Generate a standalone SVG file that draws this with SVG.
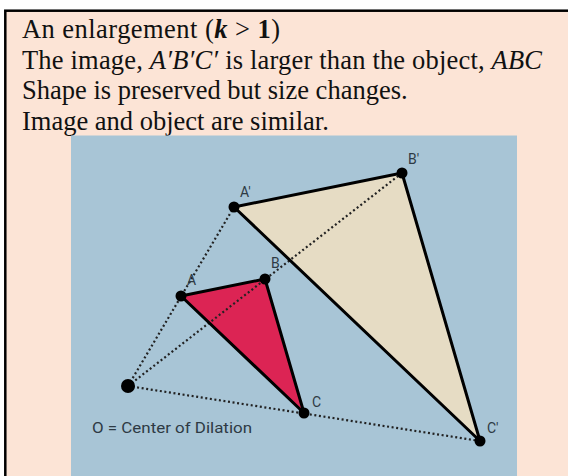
<svg xmlns="http://www.w3.org/2000/svg" width="568" height="476" viewBox="0 0 568 476">
<style>
.t{font-family:"Liberation Serif","Times New Roman",serif;font-size:26.5px;fill:#111}
.lbl{font-family:Roboto,"Liberation Sans",sans-serif;font-size:14px;fill:#2e3a44}
.dot{stroke:#222;stroke-width:2.2;stroke-dasharray:2 2.6;fill:none}
.edge{stroke:#000;stroke-width:3;stroke-linejoin:round;fill:none}
.pt{fill:#000}
</style>
<rect x="5.3" y="10.7" width="570" height="475" fill="#FCE4D6" stroke="#000" stroke-width="2.5"/>
<g id="text">
<text class="t" x="22" y="38" textLength="258" lengthAdjust="spacing">An enlargement (<tspan font-style="italic" font-weight="bold">k</tspan> &gt; <tspan font-weight="bold">1</tspan>)</text>
<text class="t" x="22" y="68.5" textLength="520" lengthAdjust="spacing">The image, <tspan font-style="italic">A′B′C′</tspan> is larger than the object, <tspan font-style="italic">ABC</tspan></text>
<text class="t" x="22" y="99">Shape is preserved but size changes.</text>
<text class="t" x="22" y="129.5">Image and object are similar.</text>
</g>
<rect x="71" y="135.5" width="446" height="345" fill="#A8C5D6"/>
<g id="image-triangle">
<polygon points="234,207 402,173 480,441" fill="#E6DCC4"/>
</g>
<g id="object-triangle">
<polygon points="181,296 265,279 304,413" fill="#DC2454"/>
</g>
<g id="connectors">
<line class="dot" x1="128" y1="386" x2="234" y2="207"/>
<line class="dot" x1="128" y1="386" x2="402" y2="173"/>
<line class="dot" x1="128" y1="386" x2="480" y2="441"/>
</g>
<g id="edges">
<polygon class="edge" points="234,207 402,173 480,441"/>
<polygon class="edge" points="181,296 265,279 304,413"/>
</g>
<g id="O"><circle class="pt" cx="128" cy="386" r="7"/><text class="lbl" x="92" y="433" font-size="16.5" textLength="160" lengthAdjust="spacingAndGlyphs">O = Center of Dilation</text></g>
<g id="A"><circle class="pt" cx="181" cy="296" r="5.5"/><text class="lbl" x="187" y="285">A</text></g>
<g id="B"><circle class="pt" cx="265" cy="279" r="5.5"/><text class="lbl" x="271" y="268">B</text></g>
<g id="C"><circle class="pt" cx="304" cy="413" r="5.5"/><text class="lbl" x="312" y="407">C</text></g>
<g id="A1"><circle class="pt" cx="234" cy="207" r="5.5"/><text class="lbl" x="240" y="197">A′</text></g>
<g id="B1"><circle class="pt" cx="402" cy="173" r="5.5"/><text class="lbl" x="408" y="164">B′</text></g>
<g id="C1"><circle class="pt" cx="480" cy="441" r="5.5"/><text class="lbl" x="487" y="433">C′</text></g>
</svg>
